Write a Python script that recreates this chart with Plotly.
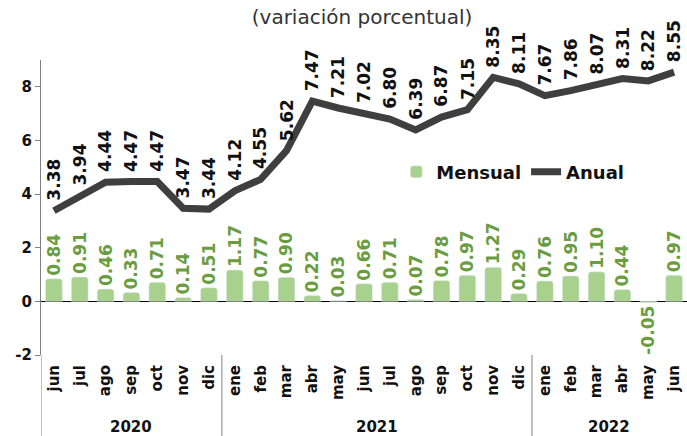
import plotly.graph_objects as go

# Data
years = ['2020'] * 7 + ['2021'] * 12 + ['2022'] * 6
months = ['jun', 'jul', 'ago', 'sep', 'oct', 'nov', 'dic',
          'ene', 'feb', 'mar', 'abr', 'may', 'jun', 'jul', 'ago', 'sep', 'oct', 'nov', 'dic',
          'ene', 'feb', 'mar', 'abr', 'may', 'jun']
mensual = [0.84, 0.91, 0.46, 0.33, 0.71, 0.14, 0.51,
           1.17, 0.77, 0.90, 0.22, 0.03, 0.66, 0.71, 0.07, 0.78, 0.97, 1.27, 0.29,
           0.76, 0.95, 1.10, 0.44, -0.05, 0.97]
anual = [3.38, 3.94, 4.44, 4.47, 4.47, 3.47, 3.44,
         4.12, 4.55, 5.62, 7.47, 7.21, 7.02, 6.80, 6.39, 6.87, 7.15, 8.35, 8.11,
         7.67, 7.86, 8.07, 8.31, 8.22, 8.55]
y_ticks = [-2, 0, 2, 4, 6, 8]

FONT = 'DejaVu Sans'
GREEN_BAR = '#a9d18e'
GREEN_TXT = '#6a9c40'
DARK = '#3f3f3f'

idx = list(range(len(months)))

fig = go.Figure()

fig.add_trace(go.Bar(
    x=idx, y=mensual, name='Mensual',
    marker=dict(color=GREEN_BAR, cornerradius=3),
    text=[f'{v:.2f}' for v in mensual],
    textposition='outside', textangle=-90, constraintext='none',
    textfont=dict(family=FONT, size=17, color=GREEN_TXT, weight='bold'),
    cliponaxis=False))

fig.add_trace(go.Scatter(
    x=idx, y=anual, name='Anual', mode='lines',
    line=dict(color=DARK, width=7), cliponaxis=False))

# rotated labels for the annual line
for i, v in enumerate(anual):
    fig.add_annotation(x=i, y=v, text=f'{v:.2f}', textangle=-90,
                       showarrow=False, xanchor='center', yanchor='bottom', yshift=8,
                       font=dict(family=FONT, size=17, color='#111111', weight='bold'))

# year groups: label in the middle, divider lines at the edges
groups = []
for i, yr in enumerate(years):
    if not groups or groups[-1][0] != yr:
        groups.append([yr, i, i])
    else:
        groups[-1][2] = i
for yr, a, b in groups:
    fig.add_annotation(x=(a + b) / 2, y=-0.243, yref='paper', text=yr, showarrow=False,
                       yanchor='middle', font=dict(family=FONT, size=15, color='#111111', weight='bold'))
    fig.add_shape(type='line', x0=a - 0.5, x1=a - 0.5, y0=0, y1=-0.3, yref='paper',
                  line=dict(color='#808080', width=1))

fig.update_layout(
    width=687, height=436,
    margin=dict(l=41, r=0, t=60, b=81),
    paper_bgcolor='white', plot_bgcolor='white',
    bargap=0.35,
    showlegend=True,
    legend=dict(orientation='h', x=0.55, y=0.62, xanchor='left', yanchor='middle',
                font=dict(family=FONT, size=18, color='#111111', weight='bold'),
                bgcolor='rgba(0,0,0,0)'),
    title=dict(text='(variación porcentual)', x=0.527, xanchor='center', y=0.96, yanchor='middle',
               font=dict(family=FONT, size=20, color='#333333')),
)

fig.update_yaxes(range=[-2, 9], tickvals=y_ticks, ticktext=[str(t) for t in y_ticks],
                 showgrid=False, zeroline=True, zerolinecolor='black', zerolinewidth=1,
                 showline=True, linecolor='#808080', linewidth=1,
                 ticks='outside', ticklen=5, tickcolor='#808080',
                 tickfont=dict(family=FONT, size=15, color='#111111', weight='bold'))

fig.update_xaxes(range=[-0.5, len(months) - 0.5], tickvals=idx, ticktext=months,
                 showgrid=False, showline=False, ticks='', zeroline=False,
                 tickangle=-90, ticklabelstandoff=6,
                 tickfont=dict(family=FONT, size=15, color='#111111', weight='bold'))

fig.write_html('out.html', config={'displayModeBar': False},
               post_script="document.body.style.margin='0';")
